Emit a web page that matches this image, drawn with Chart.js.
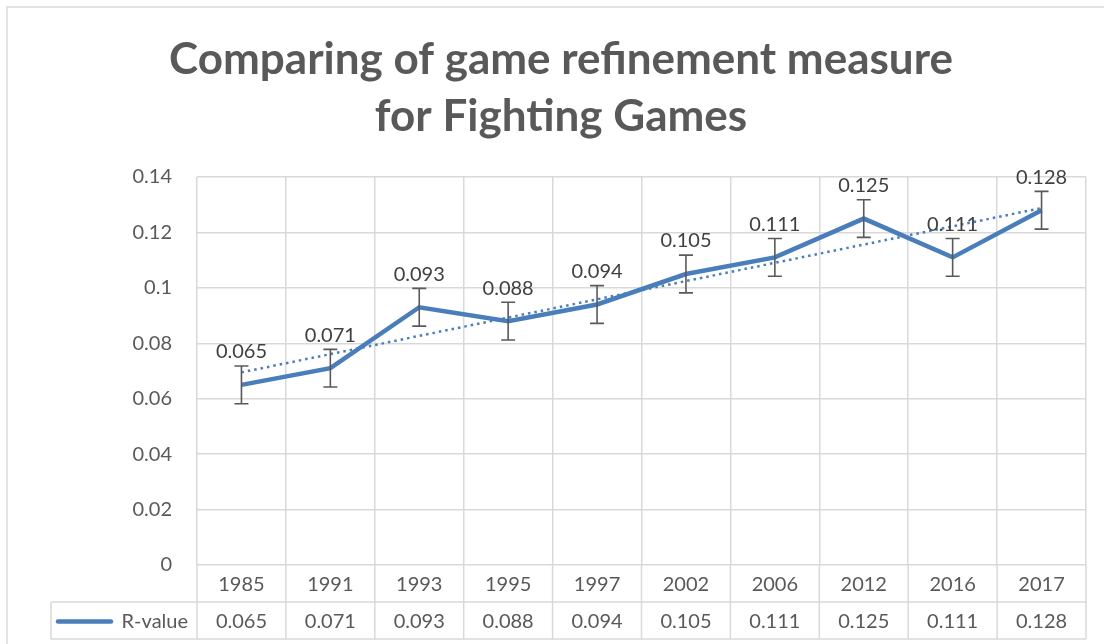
<!DOCTYPE html>
<html>
<head>
<meta charset="utf-8">
<title>Comparing of game refinement measure for Fighting Games</title>
<script src="https://cdn.jsdelivr.net/npm/chart.js@4.4.1/dist/chart.umd.min.js"></script>
<style>
  html, body { margin: 0; padding: 0; background: #fff; }
  #wrap { width: 1104px; height: 644px; position: relative; }
</style>
</head>
<body>
<div id="wrap"><canvas id="chart" width="1104" height="644"></canvas></div>
<script>
// ===== data =====
const years = ['1985', '1991', '1993', '1995', '1997', '2002', '2006', '2012', '2016', '2017'];
const rValues = [0.065, 0.071, 0.093, 0.088, 0.094, 0.105, 0.111, 0.125, 0.111, 0.128];
const errAmount = [0.0068, 0.0068, 0.0068, 0.0068, 0.0068, 0.0068, 0.0068, 0.0068, 0.0068, 0.0068];
const trendEnds = [0.0695, 0.1288]; // dotted linear trendline, first and last category
const yTicks = [0, 0.02, 0.04, 0.06, 0.08, 0.1, 0.12, 0.14];
const titleLines = ['Comparing of game refinement measure', 'for Fighting Games'];
const seriesName = 'R-value';

const BLUE = '#4a7ebb';
const GRID = '#d9d9d9';
const TEXT = '#595959';
const FONT = 'Lato, "Open Sans", sans-serif';

// trendline only has its two end points, the line spans the gap
const trendData = years.map((_, i) => i === 0 ? trendEnds[0] : (i === years.length - 1 ? trendEnds[1] : null));

// ---- error bars + data labels over the series ----
const markPlugin = {
  id: 'marks',
  afterDatasetsDraw(chart) {
    const ctx = chart.ctx;
    const x = chart.scales.x, y = chart.scales.y;
    ctx.save();
    ctx.strokeStyle = TEXT;
    ctx.lineWidth = 1.6;
    rValues.forEach((v, i) => {
      const px = x.getPixelForValue(i);
      const top = y.getPixelForValue(v + errAmount[i]);
      const bot = y.getPixelForValue(v - errAmount[i]);
      ctx.beginPath();
      ctx.moveTo(px, top); ctx.lineTo(px, bot);
      ctx.moveTo(px - 7, top); ctx.lineTo(px + 7, top);
      ctx.moveTo(px - 7, bot); ctx.lineTo(px + 7, bot);
      ctx.stroke();
    });
    ctx.fillStyle = '#404040';
    ctx.font = '20px ' + FONT;
    ctx.textAlign = 'center';
    ctx.textBaseline = 'middle';
    rValues.forEach((v, i) => {
      ctx.fillText(v.toFixed(3), x.getPixelForValue(i), y.getPixelForValue(v) - 33);
    });
    ctx.restore();
  }
};

// ---- title, outer frame and the data table below the plot ----
const tablePlugin = {
  id: 'table',
  afterDraw(chart) {
    const ctx = chart.ctx;
    const area = chart.chartArea;
    const x = chart.scales.x;
    const rowTop = area.bottom, rowMid = 602, rowBot = 639, keyLeft = 51;
    ctx.save();

    // frame
    ctx.strokeStyle = '#e3e3e3';
    ctx.lineWidth = 2;
    ctx.beginPath();
    ctx.moveTo(7, 700); ctx.lineTo(7, 7); ctx.lineTo(1110, 7);
    ctx.stroke();

    // title
    ctx.fillStyle = TEXT;
    ctx.font = 'bold 44px ' + FONT;
    ctx.textAlign = 'center';
    ctx.textBaseline = 'middle';
    ctx.fillText(titleLines[0], 561, 60);
    ctx.fillText(titleLines[1], 561, 117);

    // table grid
    ctx.strokeStyle = GRID;
    ctx.lineWidth = 1.5;
    ctx.beginPath();
    for (let i = 0; i <= years.length; i++) {
      const bx = i < years.length ? x.getPixelForValue(i) - (x.getPixelForValue(1) - x.getPixelForValue(0)) / 2 : area.right;
      ctx.moveTo(bx, rowTop); ctx.lineTo(bx, rowBot);
    }
    ctx.moveTo(keyLeft, rowMid); ctx.lineTo(area.right, rowMid);
    ctx.moveTo(keyLeft, rowBot); ctx.lineTo(area.right, rowBot);
    ctx.moveTo(keyLeft, rowMid); ctx.lineTo(keyLeft, rowBot);
    ctx.stroke();

    // category row and value row
    ctx.fillStyle = TEXT;
    ctx.font = '20px ' + FONT;
    years.forEach((yr, i) => {
      const cx = x.getPixelForValue(i);
      ctx.fillText(yr, cx, (rowTop + rowMid) / 2 + 1);
      ctx.fillText(rValues[i].toFixed(3), cx, (rowMid + rowBot) / 2 + 1);
    });

    // legend key
    const ky = (rowMid + rowBot) / 2 + 1;
    ctx.strokeStyle = BLUE;
    ctx.lineWidth = 4.5;
    ctx.lineCap = 'round';
    ctx.beginPath();
    ctx.moveTo(58, ky); ctx.lineTo(111, ky);
    ctx.stroke();
    ctx.textAlign = 'right';
    ctx.fillText(seriesName, 188, ky);
    ctx.restore();
  }
};

new Chart(document.getElementById('chart'), {
  type: 'line',
  data: {
    labels: years,
    datasets: [{
      label: seriesName,
      data: rValues,
      borderColor: BLUE,
      borderWidth: 4.5,
      pointRadius: 0,
      tension: 0,
      order: 1
    }, {
      label: 'Linear (R-value)',
      data: trendData,
      borderColor: BLUE,
      borderWidth: 2.5,
      borderDash: [2.5, 4],
      spanGaps: true,
      pointRadius: 0,
      order: 2
    }]
  },
  options: {
    responsive: false,
    animation: false,
    layout: { padding: { left: 0, top: 177, right: 18, bottom: 79 } },
    plugins: {
      legend: { display: false },
      tooltip: { enabled: false },
      title: { display: false }
    },
    scales: {
      x: {
        offset: true,
        grid: { color: GRID, lineWidth: 1.5, offset: true, drawTicks: false },
        border: { display: false },
        ticks: { display: false },
        afterFit: s => { s.height = 0; }
      },
      y: {
        min: 0,
        max: 0.14,
        afterBuildTicks: s => { s.ticks = yTicks.map(v => ({ value: v })); },
        grid: { color: GRID, lineWidth: 1.5, drawTicks: false },
        border: { display: false },
        ticks: {
          padding: 25,
          color: TEXT,
          font: { family: FONT, size: 20 },
          callback: v => String(+v.toFixed(2))
        },
        afterFit: s => { s.width = 197; }
      }
    }
  },
  plugins: [markPlugin, tablePlugin]
});
</script>
</body>
</html>
